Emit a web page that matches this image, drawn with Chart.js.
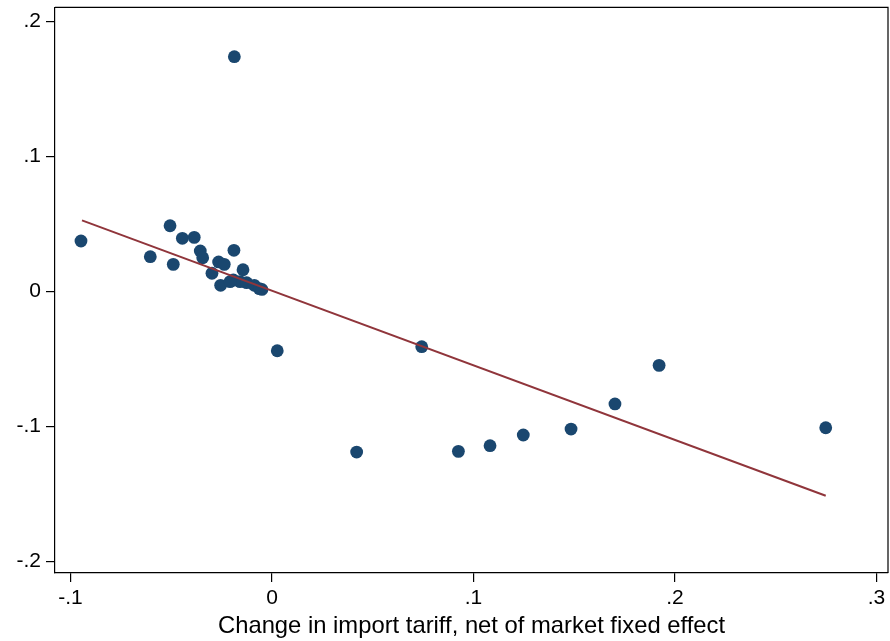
<!DOCTYPE html>
<html>
<head>
<meta charset="utf-8">
<script src="https://cdn.jsdelivr.net/npm/chart.js@4"></script>
<style>
  html, body { margin: 0; padding: 0; background: #fff; }
  #wrap { width: 890px; height: 641px; }
</style>
</head>
<body>
<div id="wrap"><canvas id="c" width="890" height="641"></canvas></div>
<script>
// Change in import tariff (net of market fixed effect) vs. outcome
const tariffChange = [
  -0.0948, -0.0506, -0.0604, -0.0445, -0.0386, -0.0490, -0.0356, -0.0344,
  -0.0189, -0.0265, -0.0237, -0.0298, -0.0144, -0.0255, -0.0192, -0.0159,
  -0.0126, -0.0088, -0.0063, -0.0208, -0.0050, -0.0187,
  0.0026, 0.0420, 0.0743, 0.0925, 0.1082, 0.1247, 0.1484, 0.1702, 0.1921, 0.2748
];
const outcome = [
  0.0374, 0.0487, 0.0258, 0.0394, 0.0401, 0.0201, 0.0300, 0.0250,
  0.0305, 0.0219, 0.0201, 0.0135, 0.0161, 0.0046, 0.0085, 0.0073,
  0.0065, 0.0046, 0.0021, 0.0073, 0.0015, 0.1739,
  -0.0439, -0.1189, -0.0409, -0.1184, -0.1142, -0.1063, -0.1019, -0.0833, -0.0547, -0.1009
];
// Fitted regression line endpoints
const fitX = [-0.0943, 0.2748];
const fitY = [0.0527, -0.1513];

const xTicks = [-0.1, 0, 0.1, 0.2, 0.3];
const yTicks = [-0.2, -0.1, 0, 0.1, 0.2];
const xTitle = 'Change in import tariff, net of market fixed effect';

const fmt = v => {
  if (Math.abs(v) < 1e-9) return '0';
  const s = String(Math.round(v * 10) / 10);
  return s.replace('0.', '.');
};

const points = tariffChange.map((x, i) => ({ x, y: outcome[i] }));
const fitLine = fitX.map((x, i) => ({ x, y: fitY[i] }));

const FONT = "'Liberation Sans', Arial, Helvetica, sans-serif";

// outline on the top and right of the plot region
const frame = {
  id: 'frame',
  afterDraw(chart) {
    const { ctx, chartArea: a } = chart;
    ctx.save();
    ctx.strokeStyle = '#000';
    ctx.lineWidth = 1.2;
    ctx.beginPath();
    ctx.moveTo(a.left, a.top);
    ctx.lineTo(a.right, a.top);
    ctx.lineTo(a.right, a.bottom);
    ctx.stroke();
    ctx.restore();
  }
};

new Chart(document.getElementById('c'), {
  type: 'scatter',
  data: {
    datasets: [
      {
        type: 'line',
        data: fitLine,
        borderColor: '#90353b',
        borderWidth: 2,
        pointRadius: 0,
        fill: false,
        order: 0
      },
      {
        type: 'scatter',
        data: points,
        backgroundColor: '#1a476f',
        borderWidth: 0,
        pointRadius: 6.4,
        pointHoverRadius: 6.4,
        order: 1
      }
    ]
  },
  options: {
    responsive: false,
    animation: false,
    devicePixelRatio: 1,
    layout: { autoPadding: false, padding: { top: 7.3, right: 2, left: 0, bottom: 0 } },
    plugins: { legend: { display: false }, tooltip: { enabled: false } },
    scales: {
      x: {
        type: 'linear',
        min: -0.1077,
        max: 0.3057,
        afterBuildTicks: s => { s.ticks = xTicks.map(v => ({ value: v })); },
        afterFit: s => { s.height = 68; s.paddingLeft = 0; s.paddingRight = 0; },
        grid: { display: true, drawOnChartArea: false, drawTicks: true, tickLength: 9, color: '#000', lineWidth: 1.2 },
        border: { display: true, color: '#000', width: 1.2 },
        ticks: { callback: v => fmt(v), color: '#000', padding: 4, maxRotation: 0, autoSkip: false, font: { family: FONT, size: 21 } },
        title: { display: true, text: xTitle, color: '#000', font: { family: FONT, size: 23.8 }, padding: { top: 0, bottom: 0 } }
      },
      y: {
        type: 'linear',
        min: -0.2085,
        max: 0.2105,
        afterBuildTicks: s => { s.ticks = yTicks.map(v => ({ value: v })); },
        afterFit: s => { s.width = 55; s.paddingTop = 0; s.paddingBottom = 0; },
        grid: { display: true, drawOnChartArea: false, drawTicks: true, tickLength: 9, color: '#000', lineWidth: 1.2 },
        border: { display: true, color: '#000', width: 1.2 },
        ticks: { callback: v => fmt(v), color: '#000', padding: 5, font: { family: FONT, size: 21 } }
      }
    }
  },
  plugins: [frame]
});
</script>
</body>
</html>
